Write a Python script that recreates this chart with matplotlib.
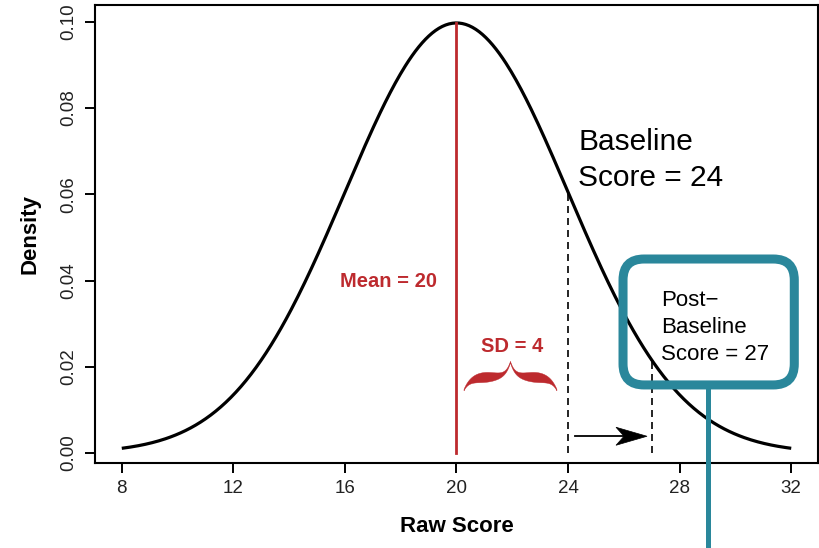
import numpy as np
import matplotlib
matplotlib.use("Agg")
import matplotlib.pyplot as plt
from matplotlib.patches import FancyBboxPatch, Polygon

plt.rcParams['font.family'] = ['Liberation Sans', 'DejaVu Sans']

# Distribution and scores
mean_score = 20
sd_score = 4
baseline_score = 24
post_score = 27
x_range = [8, 32]
x_ticks = [8, 12, 16, 20, 24, 28, 32]
y_ticks = [0.00, 0.02, 0.04, 0.06, 0.08, 0.10]
y_tick_labels = ["0.00", "0.02", "0.04", "0.06", "0.08", "0.10"]

RED = "#BD2A2E"
TEAL = "#2A879B"
INK = "#222222"


def density(x):
    return np.exp(-0.5 * ((x - mean_score) / sd_score) ** 2) / (sd_score * np.sqrt(2 * np.pi))


W, H = 820, 548
fig = plt.figure(figsize=(W / 100, H / 100), dpi=100)
ax = fig.add_axes([95 / W, 1 - 463 / H, (818 - 95) / W, (463 - 5) / H])
ax.set_xlim(7.04, 32.96)
ax.set_ylim(-0.0023, 0.1039)

# pixels per data unit, used for shapes defined in screen terms
p0 = ax.transData.transform((0, 0))
p1 = ax.transData.transform((1, 1))
px_x = p1[0] - p0[0]
px_y = p1[1] - p0[1]

# density curve
xs = np.linspace(x_range[0], x_range[1], 400)
ax.plot(xs, density(xs), color="black", lw=2.3, solid_capstyle="butt", zorder=3)

# mean line
ax.plot([mean_score, mean_score], [0, density(mean_score)], color=RED, lw=2.0, zorder=4)
ax.text(mean_score - 2.45, 0.0385, "Mean = 20", color=RED, fontsize=14.5,
        fontweight="bold", ha="center", va="baseline")

# SD label and brace
ax.text(mean_score + sd_score / 2, 0.0234, "SD = 4", color=RED, fontsize=14.5,
        fontweight="bold", ha="center", va="baseline")

b_left, b_right = mean_score + 0.27, baseline_score - 0.4
b_tip = 0.0146
half_px = (b_right - b_left) * px_x / 2
u = np.linspace(0, 1, 240)
h = 13.0 * (1 - np.exp(-u / 0.13)) + 15.0 * np.exp(-(1 - u) / 0.10)
th = 1.5 + 11.0 * np.sin(np.pi * u) ** 1.2 * (1 - 0.5 * u)
xl = u * half_px
xr = 2 * half_px - xl
up_l, lo_l = h + th / 2, h - th / 2
px_pts = np.concatenate([
    np.column_stack([xl, up_l]),
    np.column_stack([xr[::-1], up_l[::-1]]),
    np.column_stack([xr, lo_l]),
    np.column_stack([xl[::-1], lo_l[::-1]]),
])
brace_pts = np.column_stack([b_left + px_pts[:, 0] / px_x, b_tip + px_pts[:, 1] / px_y])
ax.add_patch(Polygon(brace_pts, closed=True, facecolor=RED, edgecolor=RED, lw=0.3, zorder=4))

# dashed score markers
dash = (0, (4.2, 3.0))
ax.plot([baseline_score, baseline_score], [0, density(baseline_score)], color="black",
        lw=1.2, linestyle=dash, zorder=3)
ax.plot([post_score, post_score], [0, density(post_score)], color="black",
        lw=1.2, linestyle=dash, zorder=3)

# arrow from baseline to post-baseline score
a_y = 0.0039
a_start, a_end = baseline_score + 0.25, post_score - 0.17
head_len, head_half, notch = 31 / px_x, 9 / px_y, 8 / px_x
ax.plot([a_start, a_end - notch], [a_y, a_y], color="black", lw=1.3, zorder=4)
ax.add_patch(Polygon([[a_end, a_y], [a_end - head_len, a_y + head_half],
                      [a_end - head_len + notch, a_y], [a_end - head_len, a_y - head_half]],
                     closed=True, facecolor="black", edgecolor="black", lw=0.5, zorder=4))

# score labels
ax.text(baseline_score + 0.36, 0.0703, "Baseline", fontsize=21.5, color="black",
        ha="left", va="baseline")
ax.text(baseline_score + 0.36, 0.0619, "Score = 24", fontsize=21.5, color="black",
        ha="left", va="baseline")

post_lines = ["Post\u2212", "Baseline", "Score = 27"]
post_base = [0.0341, 0.0279, 0.0215]
for txt, yb in zip(post_lines, post_base):
    ax.text(post_score + 0.34, yb, txt, fontsize=16, color="black", ha="left", va="baseline")

# callout box and leader line
bx0, bx1 = post_score - 1.03, post_score + 5.11
by0, by1 = 0.0158, 0.0450
ax.add_patch(FancyBboxPatch((bx0, by0), bx1 - bx0, by1 - by0,
                            boxstyle=f"round,pad=0,rounding_size={21 / px_x}",
                            mutation_aspect=px_x / px_y, facecolor="none",
                            edgecolor=TEAL, lw=6.5, clip_on=False, zorder=6))
ax.plot([29.0, 29.0], [by0, -0.03], color=TEAL, lw=3.6, solid_capstyle="butt",
        clip_on=False, zorder=6)

# axes styling
for s in ax.spines.values():
    s.set_linewidth(1.5)
    s.set_color("black")
ax.set_xticks(x_ticks)
ax.set_xticklabels([str(t) for t in x_ticks], fontsize=13.5, color=INK)
ax.set_yticks(y_ticks)
ax.set_yticklabels(y_tick_labels, fontsize=13.5, color=INK, rotation=90, va="center")
ax.tick_params(axis="both", length=7.5, width=1.4, color="black")
ax.tick_params(axis="x", pad=5)
ax.tick_params(axis="y", pad=5)

ax.set_xlabel("Raw Score", fontsize=16, fontweight="bold", va="center")
ax.xaxis.set_label_coords(0.5, (463 - 527) / 458)
ax.set_ylabel("Density", fontsize=16, fontweight="bold", va="center")
ax.yaxis.set_label_coords((30 - 95) / 723, 0.5)

fig.savefig("out.png", dpi=100)
